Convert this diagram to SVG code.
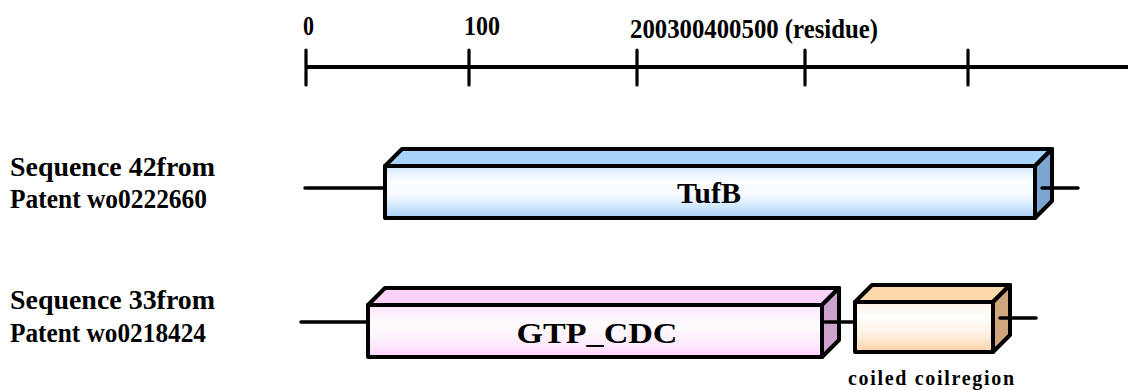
<svg xmlns="http://www.w3.org/2000/svg" width="1128" height="390" viewBox="0 0 1128 390">
<style>
.lbl{font-family:"Liberation Serif","Times New Roman",serif;font-weight:bold;fill:#000;}
.ax{font-size:27px;}
.side{font-size:27px;}
.dom{font-size:30px;}
.small{font-size:20px;}
.edge{stroke:#000;stroke-width:4;stroke-linejoin:round;}
.conn{stroke:#000;stroke-width:3.5;stroke-linecap:round;fill:none;}
.axis{stroke:#000;stroke-width:4;fill:none;}
.tick{stroke:#000;stroke-width:3.2;stroke-linecap:round;}
</style>
<defs>
<linearGradient id="gBlue" x1="0" y1="0" x2="0" y2="1">
<stop offset="0" stop-color="#d2e8fd"/>
<stop offset="0.15" stop-color="#eaf4fe"/>
<stop offset="0.3" stop-color="#fcfeff"/>
<stop offset="0.55" stop-color="#f6faff"/>
<stop offset="0.7" stop-color="#deeefd"/>
<stop offset="0.85" stop-color="#c2dffc"/>
<stop offset="1" stop-color="#a4d0fb"/>
</linearGradient>
<linearGradient id="gPink" x1="0" y1="0" x2="0" y2="1">
<stop offset="0" stop-color="#fde4fd"/>
<stop offset="0.2" stop-color="#fef2fe"/>
<stop offset="0.4" stop-color="#fffcff"/>
<stop offset="0.65" stop-color="#fef0fe"/>
<stop offset="0.85" stop-color="#fde2fd"/>
<stop offset="1" stop-color="#fcd0fc"/>
</linearGradient>
<linearGradient id="gPeach" x1="0" y1="0" x2="0" y2="1">
<stop offset="0" stop-color="#fdf3ea"/>
<stop offset="0.3" stop-color="#fffdfb"/>
<stop offset="0.55" stop-color="#fef5ec"/>
<stop offset="0.75" stop-color="#fde8d4"/>
<stop offset="1" stop-color="#fdd1a2"/>
</linearGradient>
</defs>
<rect width="1128" height="390" fill="#fff"/>

<g id="axis">
<line class="axis" x1="306" y1="67" x2="1128" y2="67"/>
<line class="tick" x1="306" y1="50" x2="306" y2="85"/>
<line class="tick" x1="469" y1="50" x2="469" y2="85"/>
<line class="tick" x1="637" y1="50" x2="637" y2="85"/>
<line class="tick" x1="805" y1="50" x2="805" y2="85"/>
<line class="tick" x1="968" y1="50" x2="968" y2="85"/>
<text class="lbl ax" x="303" y="35" textLength="11" lengthAdjust="spacingAndGlyphs">0</text>
<text class="lbl ax" x="464" y="35" textLength="36" lengthAdjust="spacingAndGlyphs">100</text>
<text class="lbl ax" x="630" y="38" textLength="248" lengthAdjust="spacingAndGlyphs">200300400500 (residue)</text>
</g>

<g id="label-seq42">
<text class="lbl side" x="10" y="176" textLength="205" lengthAdjust="spacingAndGlyphs">Sequence 42from</text>
<text class="lbl side" x="10" y="208" textLength="197" lengthAdjust="spacingAndGlyphs">Patent wo0222660</text>
</g>
<g id="label-seq33">
<text class="lbl side" x="10" y="309" textLength="205" lengthAdjust="spacingAndGlyphs">Sequence 33from</text>
<text class="lbl side" x="10" y="342" textLength="196" lengthAdjust="spacingAndGlyphs">Patent wo0218424</text>
</g>

<g id="node-tufb">
<path class="edge" fill="#a8d3fc" d="M385,166 L402,149 L1052,149 L1035,166 Z"/>
<path class="edge" fill="#7aa6d0" d="M1035,166 L1052,149 L1052,201 L1035,218 Z"/>
<rect class="edge" x="385" y="166" width="650" height="52" fill="url(#gBlue)"/>
<text class="lbl dom" x="709" y="203" text-anchor="middle">TufB</text>
</g>

<g id="node-gtp">
<path class="edge" fill="#fdd3fd" d="M368,305 L385,288 L839,288 L822,305 Z"/>
<path class="edge" fill="#cda4cd" d="M822,305 L839,288 L839,340 L822,357 Z"/>
<rect class="edge" x="368" y="305" width="454" height="52" fill="url(#gPink)"/>
<text class="lbl dom" x="597" y="343" text-anchor="middle" textLength="161" lengthAdjust="spacingAndGlyphs">GTP_CDC</text>
</g>

<g id="node-coiled">
<path class="edge" fill="#fdd8ab" d="M855,302 L872,285 L1010,285 L993,302 Z"/>
<path class="edge" fill="#cfa67e" d="M993,302 L1010,285 L1010,335 L993,352 Z"/>
<rect class="edge" x="855" y="302" width="138" height="50" fill="url(#gPeach)"/>
<text class="lbl small" x="848" y="385" textLength="166" lengthAdjust="spacing">coiled coilregion</text>
</g>

<g id="connectors">
<line class="conn" x1="305" y1="188" x2="385" y2="188"/>
<line class="conn" x1="1042" y1="188" x2="1078" y2="188"/>
<line class="conn" x1="301" y1="322" x2="368" y2="322"/>
<line class="conn" x1="825" y1="322" x2="855" y2="322"/>
<line class="conn" x1="1000" y1="318" x2="1036" y2="318"/>
</g>
</svg>
